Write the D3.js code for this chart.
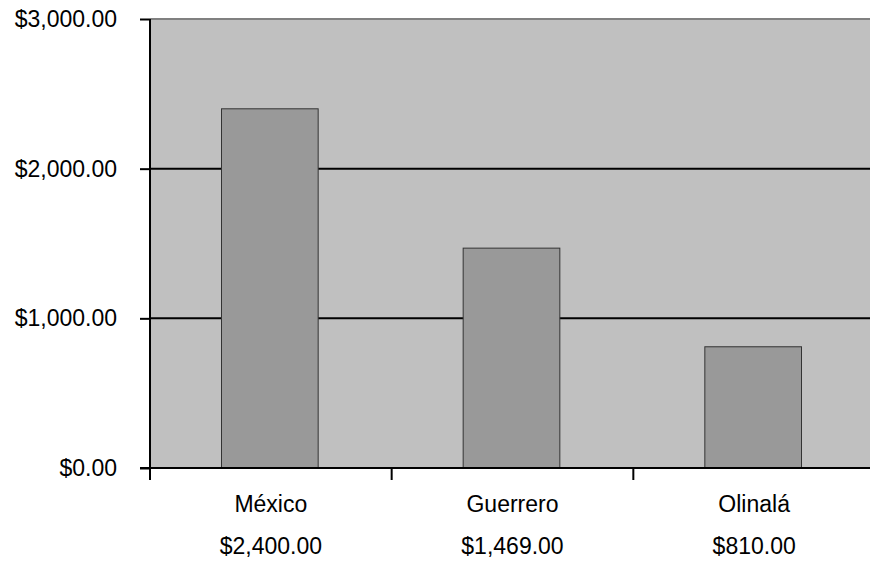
<!DOCTYPE html>
<html><head><meta charset="utf-8">
<script src="https://cdn.jsdelivr.net/npm/d3@7"></script>
<style>body{margin:0;background:#fff}svg{display:block}</style>
</head><body>
<script>
const categories = ["México", "Guerrero", "Olinalá"];
const values = [2400, 1469, 810];
const valueLabels = ["$2,400.00", "$1,469.00", "$810.00"];
const yTicks = [0, 1000, 2000, 3000];

const W = 870, H = 562;
const pLeft = 150, pTop = 19, pBottom = 468, pRight = 875;
const svg = d3.select("body").append("svg").attr("width", W).attr("height", H);
const x = d3.scaleBand().domain(categories).range([pLeft, pRight]).paddingInner(0).paddingOuter(0);
const y = d3.scaleLinear().domain([0, 3000]).range([pBottom, pTop]);
const fmt = d3.format("$,.2f");
const font = "Liberation Sans, Arial, sans-serif";
const fs = 23;

svg.append("rect").attr("x", pLeft).attr("y", pTop).attr("width", pRight - pLeft).attr("height", pBottom - pTop).attr("fill", "#c0c0c0");
svg.append("line").attr("x1", pLeft).attr("x2", pRight).attr("y1", pTop).attr("y2", pTop).attr("stroke", "#808080").attr("stroke-width", 2);

svg.selectAll(".grid").data(yTicks.filter(d => d > 0 && d < 3000)).enter().append("line")
  .attr("x1", pLeft).attr("x2", pRight).attr("y1", d => y(d)).attr("y2", d => y(d))
  .attr("stroke", "#000").attr("stroke-width", 2);

const bw = x.bandwidth() * 0.4;
svg.selectAll(".bar").data(values).enter().append("rect")
  .attr("x", (d, i) => x(categories[i]) + x.bandwidth() / 2 - bw / 2 - 1)
  .attr("y", d => y(d)).attr("width", bw).attr("height", d => pBottom - y(d))
  .attr("fill", "#999999").attr("stroke", "#333").attr("stroke-width", 1);

// y axis
const ya = svg.append("g").attr("transform", `translate(${pLeft},0)`)
  .call(d3.axisLeft(y).tickValues(yTicks).tickFormat(fmt).tickSize(10).tickPadding(23));
ya.attr("font-size", fs).attr("font-family", font);
ya.select(".domain").attr("stroke", "#000").attr("stroke-width", 2).attr("d", `M0,${pTop}V${pBottom}`);
ya.selectAll(".tick line").attr("stroke", "#000").attr("stroke-width", 2);
ya.selectAll("text").attr("fill", "#000");

// x axis
svg.append("line").attr("x1", pLeft - 10).attr("x2", pRight).attr("y1", pBottom).attr("y2", pBottom).attr("stroke", "#000").attr("stroke-width", 2);
const bounds = categories.map(c => x(c)).concat([pRight]);
svg.selectAll(".xt").data(bounds).enter().append("line")
  .attr("x1", d => d).attr("x2", d => d).attr("y1", pBottom).attr("y2", pBottom + 12)
  .attr("stroke", "#000").attr("stroke-width", 2);

svg.selectAll(".cat").data(categories).enter().append("text")
  .attr("x", d => x(d) + x.bandwidth() / 2).attr("y", 512).attr("text-anchor", "middle")
  .attr("font-family", font).attr("font-size", fs).text(d => d);
svg.selectAll(".val").data(valueLabels).enter().append("text")
  .attr("x", (d, i) => x(categories[i]) + x.bandwidth() / 2).attr("y", 554).attr("text-anchor", "middle")
  .attr("font-family", font).attr("font-size", fs).text(d => d);
</script>
</body></html>
